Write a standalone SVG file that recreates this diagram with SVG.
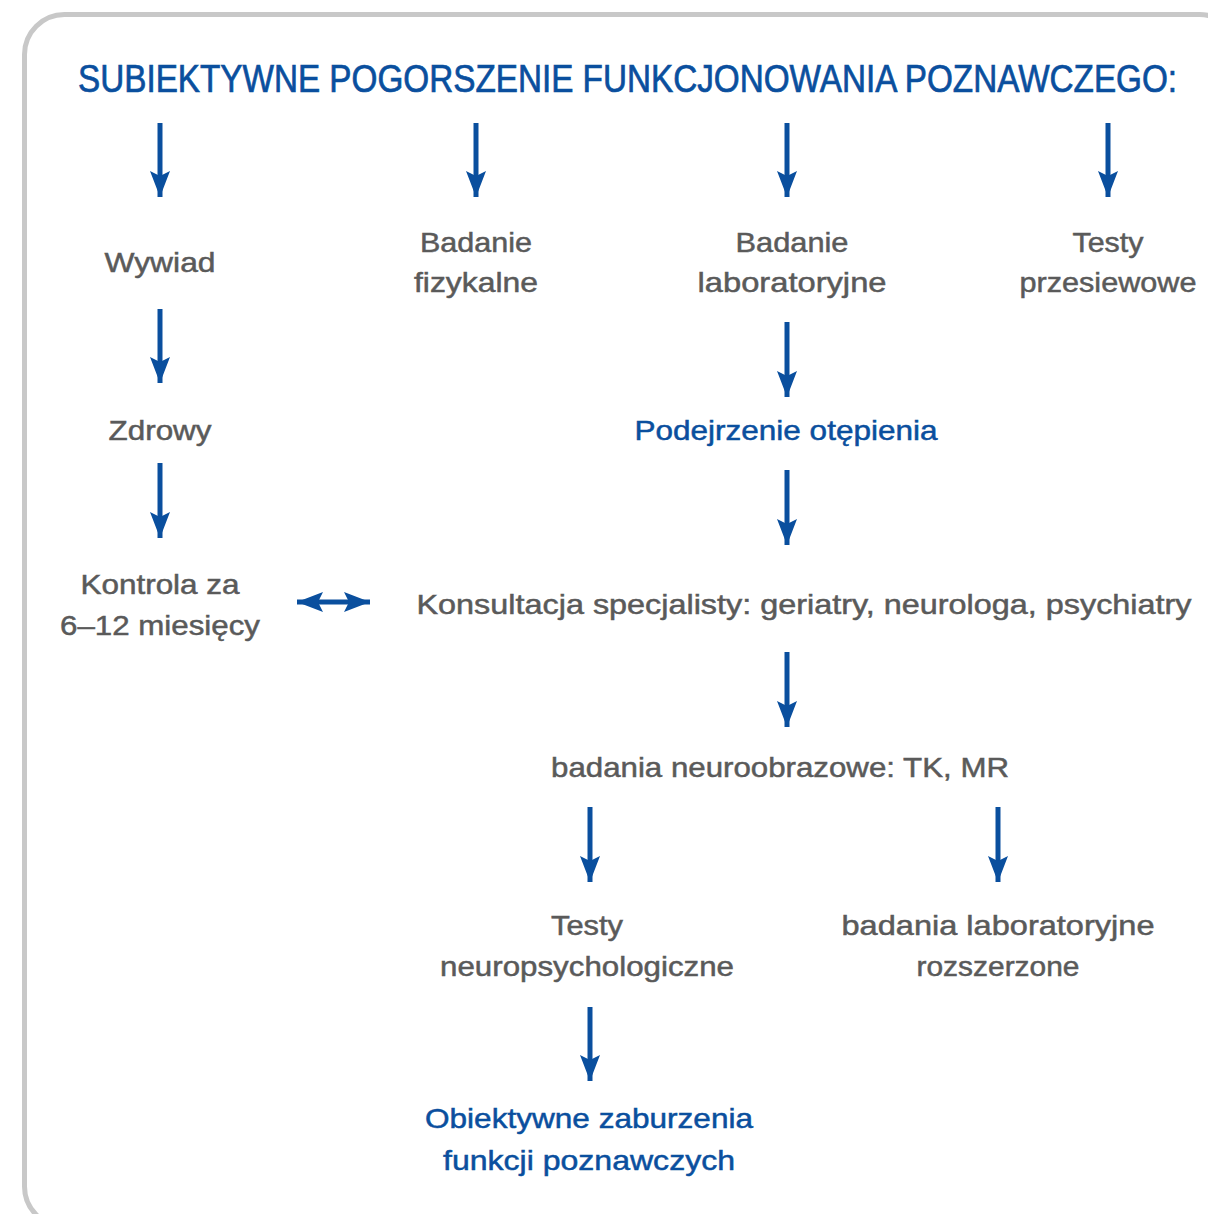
<svg xmlns="http://www.w3.org/2000/svg" width="1208" height="1214" viewBox="0 0 1208 1214">
<style>
.t{font-family:"Liberation Sans",Arial,sans-serif;font-size:28px;fill:#5a5a5a;stroke:#5a5a5a;stroke-width:0.5;text-anchor:middle}
.b{fill:#0a4f9e;stroke:#0a4f9e}
.title{font-family:"Liberation Sans",Arial,sans-serif;font-size:38px;fill:#0a4f9e;stroke:#0a4f9e;stroke-width:0.7}
.a{stroke:#0a4f9e;stroke-width:5;fill:none;marker-end:url(#h)}
.d{stroke:#0a4f9e;stroke-width:5;fill:none;marker-end:url(#h);marker-start:url(#hs)}
</style>
<defs>
<marker id="h" viewBox="-27 -11 28 22" refX="0" refY="0" markerWidth="28" markerHeight="22" markerUnits="userSpaceOnUse" orient="auto">
<path d="M0,0 L-26,-10 L-21,0 L-26,10 Z" fill="#0a4f9e"/>
</marker>
<marker id="hs" viewBox="-1 -11 28 22" refX="0" refY="0" markerWidth="28" markerHeight="22" markerUnits="userSpaceOnUse" orient="auto">
<path d="M0,0 L26,-10 L21,0 L26,10 Z" fill="#0a4f9e"/>
</marker>
</defs>
<rect x="24.5" y="14.5" width="1215" height="1212" rx="40" ry="40" fill="#ffffff" stroke="#c8c8c8" stroke-width="5"/>
<g id="title"><text class="title" transform="translate(78,92) scale(0.86,1)" x="0" y="0" textLength="1278" lengthAdjust="spacingAndGlyphs">SUBIEKTYWNE POGORSZENIE FUNKCJONOWANIA POZNAWCZEGO:</text></g>
<g id="connectors">
<line class="a" x1="160" y1="123" x2="160" y2="197"/>
<line class="a" x1="476" y1="123" x2="476" y2="197"/>
<line class="a" x1="787" y1="123" x2="787" y2="197"/>
<line class="a" x1="1108" y1="123" x2="1108" y2="197"/>
<line class="a" x1="160" y1="309" x2="160" y2="383"/>
<line class="a" x1="160" y1="463" x2="160" y2="538"/>
<line class="a" x1="787" y1="322" x2="787" y2="397"/>
<line class="a" x1="787" y1="470" x2="787" y2="545"/>
<line class="a" x1="787" y1="652" x2="787" y2="727"/>
<line class="a" x1="590" y1="807" x2="590" y2="882"/>
<line class="a" x1="998" y1="807" x2="998" y2="882"/>
<line class="a" x1="590" y1="1007" x2="590" y2="1081"/>
<line class="d" x1="297" y1="602" x2="370" y2="602"/>
</g>
<g id="wywiad"><text class="t" x="160" y="272" textLength="111" lengthAdjust="spacingAndGlyphs">Wywiad</text></g>
<g id="badanie-fizykalne"><text class="t" x="476" y="252" textLength="112" lengthAdjust="spacingAndGlyphs">Badanie</text><text class="t" x="476" y="292" textLength="124" lengthAdjust="spacingAndGlyphs">fizykalne</text></g>
<g id="badanie-lab"><text class="t" x="792" y="252" textLength="113" lengthAdjust="spacingAndGlyphs">Badanie</text><text class="t" x="792" y="292" textLength="189" lengthAdjust="spacingAndGlyphs">laboratoryjne</text></g>
<g id="testy-przesiewowe"><text class="t" x="1108" y="252" textLength="71" lengthAdjust="spacingAndGlyphs">Testy</text><text class="t" x="1108" y="292" textLength="177" lengthAdjust="spacingAndGlyphs">przesiewowe</text></g>
<g id="zdrowy"><text class="t" x="160" y="440" textLength="103" lengthAdjust="spacingAndGlyphs">Zdrowy</text></g>
<g id="podejrzenie"><text class="t b" x="786" y="440" textLength="303" lengthAdjust="spacingAndGlyphs">Podejrzenie otępienia</text></g>
<g id="kontrola"><text class="t" x="160" y="594" textLength="159" lengthAdjust="spacingAndGlyphs">Kontrola za</text><text class="t" x="160" y="635" textLength="200" lengthAdjust="spacingAndGlyphs">6–12 miesięcy</text></g>
<g id="konsultacja"><text class="t" x="804" y="614" textLength="775" lengthAdjust="spacingAndGlyphs">Konsultacja specjalisty: geriatry, neurologa, psychiatry</text></g>
<g id="neuroobrazowe"><text class="t" x="780" y="777" textLength="458" lengthAdjust="spacingAndGlyphs">badania neuroobrazowe: TK, MR</text></g>
<g id="testy-neuro"><text class="t" x="587" y="935" textLength="72" lengthAdjust="spacingAndGlyphs">Testy</text><text class="t" x="587" y="976" textLength="294" lengthAdjust="spacingAndGlyphs">neuropsychologiczne</text></g>
<g id="lab-rozszerzone"><text class="t" x="998" y="935" textLength="313" lengthAdjust="spacingAndGlyphs">badania laboratoryjne</text><text class="t" x="998" y="976" textLength="163" lengthAdjust="spacingAndGlyphs">rozszerzone</text></g>
<g id="obiektywne"><text class="t b" x="589" y="1128" textLength="328" lengthAdjust="spacingAndGlyphs">Obiektywne zaburzenia</text><text class="t b" x="589" y="1170" textLength="292" lengthAdjust="spacingAndGlyphs">funkcji poznawczych</text></g>
</svg>
